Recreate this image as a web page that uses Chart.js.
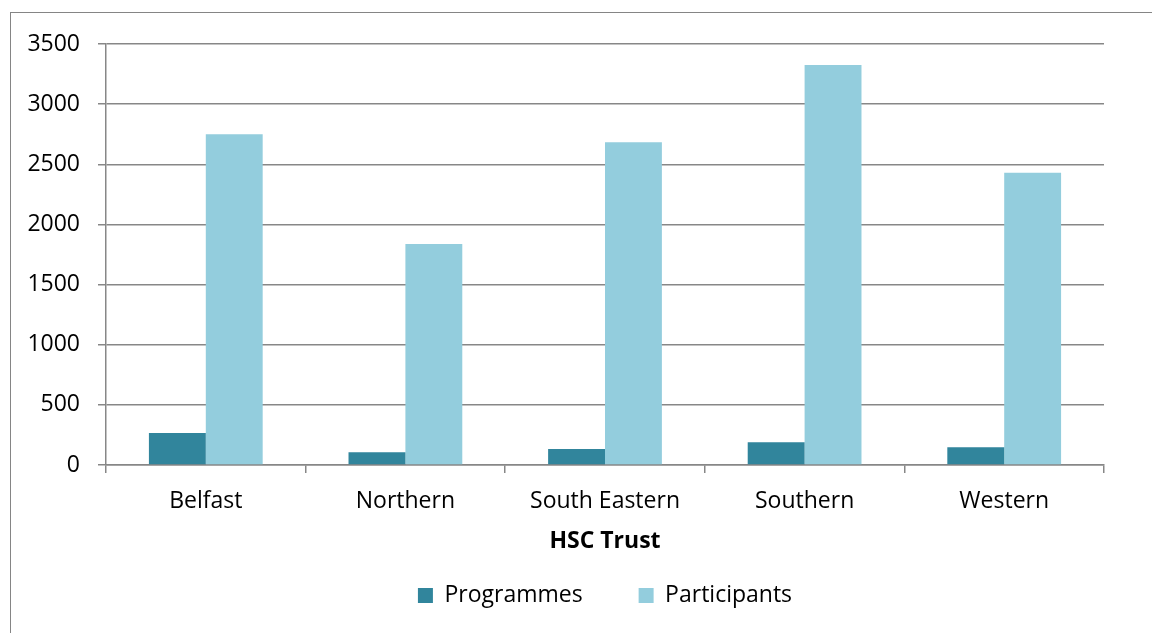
<!DOCTYPE html>
<html>
<head>
<meta charset="utf-8">
<script src="https://cdn.jsdelivr.net/npm/chart.js@4.4.0/dist/chart.umd.min.js"></script>
<style>
  html, body { margin: 0; padding: 0; background: #fff; }
  #wrap { position: relative; width: 1152px; height: 633px; overflow: hidden; }
  #frame { position: absolute; left: 10px; top: 12px; width: 1200px; height: 700px; border: 1px solid #858585; }
  #chart { position: absolute; left: 0; top: 0; }
</style>
</head>
<body>
<div id="wrap">
  <div id="frame"></div>
  <canvas id="chart" width="1152" height="633"></canvas>
</div>
<script>
// ---------- data ----------
const trusts = ['Belfast', 'Northern', 'South Eastern', 'Southern', 'Western'];
const programmes = [266, 105, 133, 190, 148];
const participants = [2750, 1838, 2684, 3326, 2430];
const yTicks = [0, 500, 1000, 1500, 2000, 2500, 3000, 3500];

const gridGrey = '#878787';
Chart.defaults.font.family = "'Open Sans', sans-serif";
Chart.defaults.color = '#000';

new Chart(document.getElementById('chart'), {
  type: 'bar',
  data: {
    labels: trusts,
    datasets: [
      { label: 'Programmes', data: programmes, backgroundColor: '#31859C' },
      { label: 'Participants', data: participants, backgroundColor: '#93CDDD' }
    ]
  },
  options: {
    responsive: false,
    devicePixelRatio: 1,
    animation: false,
    datasets: { bar: { barPercentage: 1, categoryPercentage: 0.57 } },
    layout: { padding: { left: 12, right: 48, top: 44, bottom: 16 } },
    scales: {
      y: {
        min: yTicks[0],
        max: yTicks[yTicks.length - 1],
        afterFit: s => { s.width = 94; },
        ticks: {
          stepSize: yTicks[1] - yTicks[0],
          font: { size: 23 },
          padding: 18,
          autoSkip: false,
          callback: v => String(v)
        },
        grid: { color: gridGrey, tickLength: 8, lineWidth: 1.5 },
        border: { color: gridGrey, width: 1.5 }
      },
      x: {
        // height of axis band so the legend sits below the title
        afterFit: s => { s.height = 63; },
        ticks: { font: { size: 23 }, padding: 15 },
        grid: { drawOnChartArea: false, color: gridGrey, tickLength: 8, lineWidth: 1.5 },
        border: { color: gridGrey, width: 1.5 },
        title: {
          display: true,
          text: 'HSC Trust',
          font: { size: 23, weight: 'bold' },
          padding: { top: 0, bottom: -27 }
        }
      }
    },
    plugins: {
      legend: {
        position: 'bottom',
        fullSize: false,
        labels: { font: { size: 23 }, boxWidth: 15, boxHeight: 15, padding: 56 }
      },
      tooltip: { enabled: false }
    }
  }
});
</script>
</body>
</html>
